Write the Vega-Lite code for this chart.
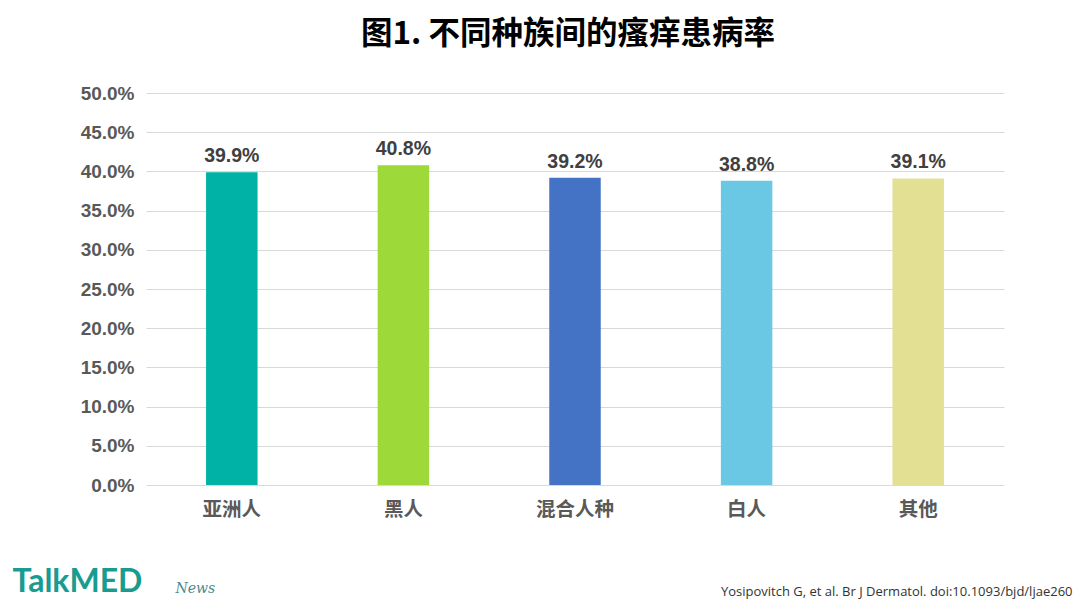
{
  "$schema": "https://vega.github.io/schema/vega-lite/v6.json",
  "width": 858,
  "height": 392,
  "autosize": {"type": "none"},
  "padding": {"left": 146, "top": 93, "right": 76, "bottom": 123},
  "background": "white",
  "title": {
    "text": "图1. 不同种族间的瘙痒患病率",
    "font": "Noto Sans CJK SC",
    "fontSize": 31.5,
    "fontWeight": "bold",
    "color": "#000000",
    "anchor": "middle",
    "dx": -7,
    "offset": 34
  },
  "data": {
    "values": [
      {"group": "亚洲人", "rate": 0.399},
      {"group": "黑人", "rate": 0.408},
      {"group": "混合人种", "rate": 0.392},
      {"group": "白人", "rate": 0.388},
      {"group": "其他", "rate": 0.391}
    ]
  },
  "encoding": {
    "x": {
      "field": "group",
      "type": "nominal",
      "sort": null,
      "scale": {"paddingInner": 0.7, "paddingOuter": 0.35},
      "axis": {
        "title": "Yosipovitch G, et al. Br J Dermatol. doi:10.1093/bjd/ljae260",
        "titleFont": "Open Sans",
        "titleFontSize": 13,
        "titleFontWeight": "normal",
        "titleColor": "#333333",
        "titleAnchor": "end",
        "titleAlign": "right",
        "titleBaseline": "middle",
        "titleX": 926,
        "titleY": 106,
        "labelAngle": 0,
        "labelFont": "Noto Sans CJK SC",
        "labelFontSize": 19.5,
        "labelFontWeight": "bold",
        "labelColor": "#595959",
        "labelPadding": 15,
        "ticks": false,
        "domain": false
      }
    }
  },
  "layer": [
    {
      "mark": {"type": "bar"},
      "encoding": {
        "y": {
          "field": "rate",
          "type": "quantitative",
          "scale": {"domain": [0, 0.5]},
          "axis": {
            "orient": "left",
            "format": ".1%",
            "values": [0, 0.05, 0.1, 0.15, 0.2, 0.25, 0.3, 0.35, 0.4, 0.45, 0.5],
            "labelFont": "Liberation Sans",
            "labelFontSize": 19,
            "labelFontWeight": "bold",
            "labelColor": "#595959",
            "labelPadding": 12,
            "ticks": false,
            "domain": false,
            "grid": true,
            "gridColor": "#d9d9d9",
            "gridWidth": 1,
            "title": "TalkMED",
            "titleFont": "Lato",
            "titleFontSize": 32,
            "titleFontWeight": "bold",
            "titleColor": "#1a9b8f",
            "titleAngle": 0,
            "titleAlign": "left",
            "titleBaseline": "middle",
            "titleX": -134,
            "titleY": 488
          }
        },
        "color": {
          "field": "group",
          "type": "nominal",
          "sort": null,
          "scale": {"range": ["#00b2a5", "#9ed93a", "#4472c4", "#6bc8e4", "#e3df93"]},
          "legend": null
        }
      }
    },
    {
      "mark": {
        "type": "text",
        "baseline": "bottom",
        "dy": -6,
        "font": "Liberation Sans",
        "fontSize": 19.5,
        "fontWeight": "bold",
        "color": "#404040"
      },
      "encoding": {
        "y": {
          "field": "rate",
          "type": "quantitative",
          "scale": {"domain": [0, 0.5]},
          "axis": {
            "orient": "left",
            "labels": false,
            "ticks": false,
            "domain": false,
            "grid": false,
            "title": "News",
            "titleFont": "DejaVu Serif",
            "titleFontSize": 14,
            "titleFontStyle": "italic",
            "titleFontWeight": "normal",
            "titleColor": "#4d8a8f",
            "titleAngle": 0,
            "titleAlign": "left",
            "titleBaseline": "middle",
            "titleX": 29,
            "titleY": 495
          }
        },
        "text": {"field": "rate", "type": "quantitative", "format": ".1%"}
      }
    }
  ],
  "resolve": {"scale": {"y": "independent"}, "axis": {"y": "independent"}},
  "config": {"view": {"stroke": null}}
}
